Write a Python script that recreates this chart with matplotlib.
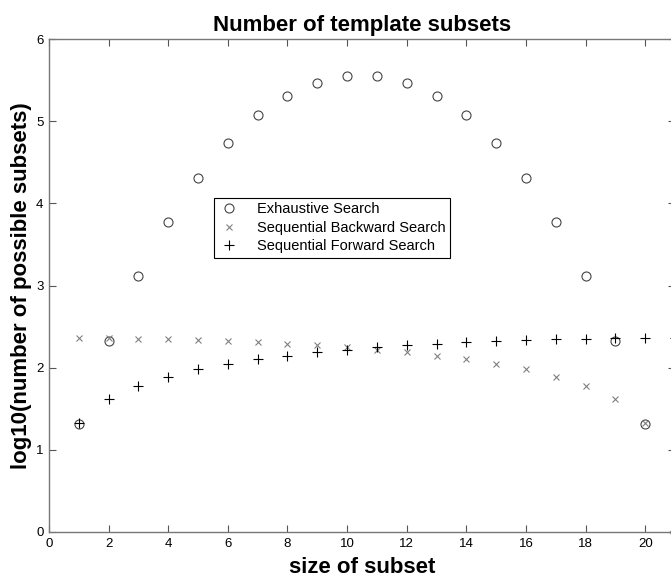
import matplotlib
matplotlib.use("Agg")
import matplotlib.pyplot as plt

plt.rcParams['font.family'] = ['Liberation Sans', 'DejaVu Sans']

subset_size = list(range(1, 22))
exhaustive = [1.32, 2.32, 3.12, 3.77, 4.31, 4.73, 5.07, 5.31, 5.47, 5.55, 5.55,
              5.47, 5.31, 5.07, 4.73, 4.31, 3.77, 3.12, 2.32, 1.32, 0.0]
backward = [2.362, 2.358, 2.352, 2.344, 2.334, 2.322, 2.307, 2.290, 2.270, 2.246, 2.217,
            2.185, 2.146, 2.100, 2.045, 1.978, 1.892, 1.778, 1.613, 1.322, 0.0]
forward = [1.322, 1.613, 1.778, 1.892, 1.978, 2.045, 2.100, 2.146, 2.185, 2.217, 2.246,
           2.270, 2.290, 2.307, 2.322, 2.334, 2.344, 2.352, 2.358, 2.362, 2.364]

fig = plt.figure(figsize=(6.71, 5.77), dpi=100)
# axes runs a little past the right edge, like the cropped original
ax = fig.add_axes([49 / 671, 45 / 577, 626 / 671, 493 / 577])

ax.plot(subset_size, exhaustive, 'o', ms=6.5, mfc='none', mec='#444444', mew=0.8,
        label='Exhaustive Search', clip_on=False)
ax.plot(subset_size, backward, 'x', ms=5, color='#808080', mew=0.8,
        label='Sequential Backward Search', clip_on=False)
ax.plot(subset_size, forward, '+', ms=7, color='black', mew=0.8,
        label='Sequential Forward Search', clip_on=False)

ax.set_xlim(0, 21)
ax.set_ylim(0, 6)
ax.set_xticks(range(0, 21, 2))
ax.set_yticks(range(0, 7))

for s in ax.spines.values():
    s.set_color('#777777')
    s.set_linewidth(1.0)
ax.tick_params(direction='in', length=5, width=0.8, color='#555555',
               top=True, right=True, labelsize=9.5, labelcolor='black', pad=4)

ax.set_title('Number of template subsets', fontsize=16, fontweight='bold', pad=6)
ax.set_xlabel('size of subset', fontsize=16, fontweight='bold')
ax.set_ylabel('log10(number of possible subsets)', fontsize=16, fontweight='bold', labelpad=3)
ax.xaxis.set_label_coords((362 - 49) / 626, -(573 - 532) / 493)
ax.xaxis.label.set_va('baseline')

leg = ax.legend(loc='upper left', bbox_to_anchor=((214 - 49) / 626, (532 - 198) / 493),
                fontsize=10.5, fancybox=False, framealpha=1, edgecolor='black',
                borderaxespad=0, labelspacing=0.3, handletextpad=1.19, handlelength=1.46,
                borderpad=0.3)
leg.get_frame().set_linewidth(0.8)

fig.savefig('out.png', dpi=100)
